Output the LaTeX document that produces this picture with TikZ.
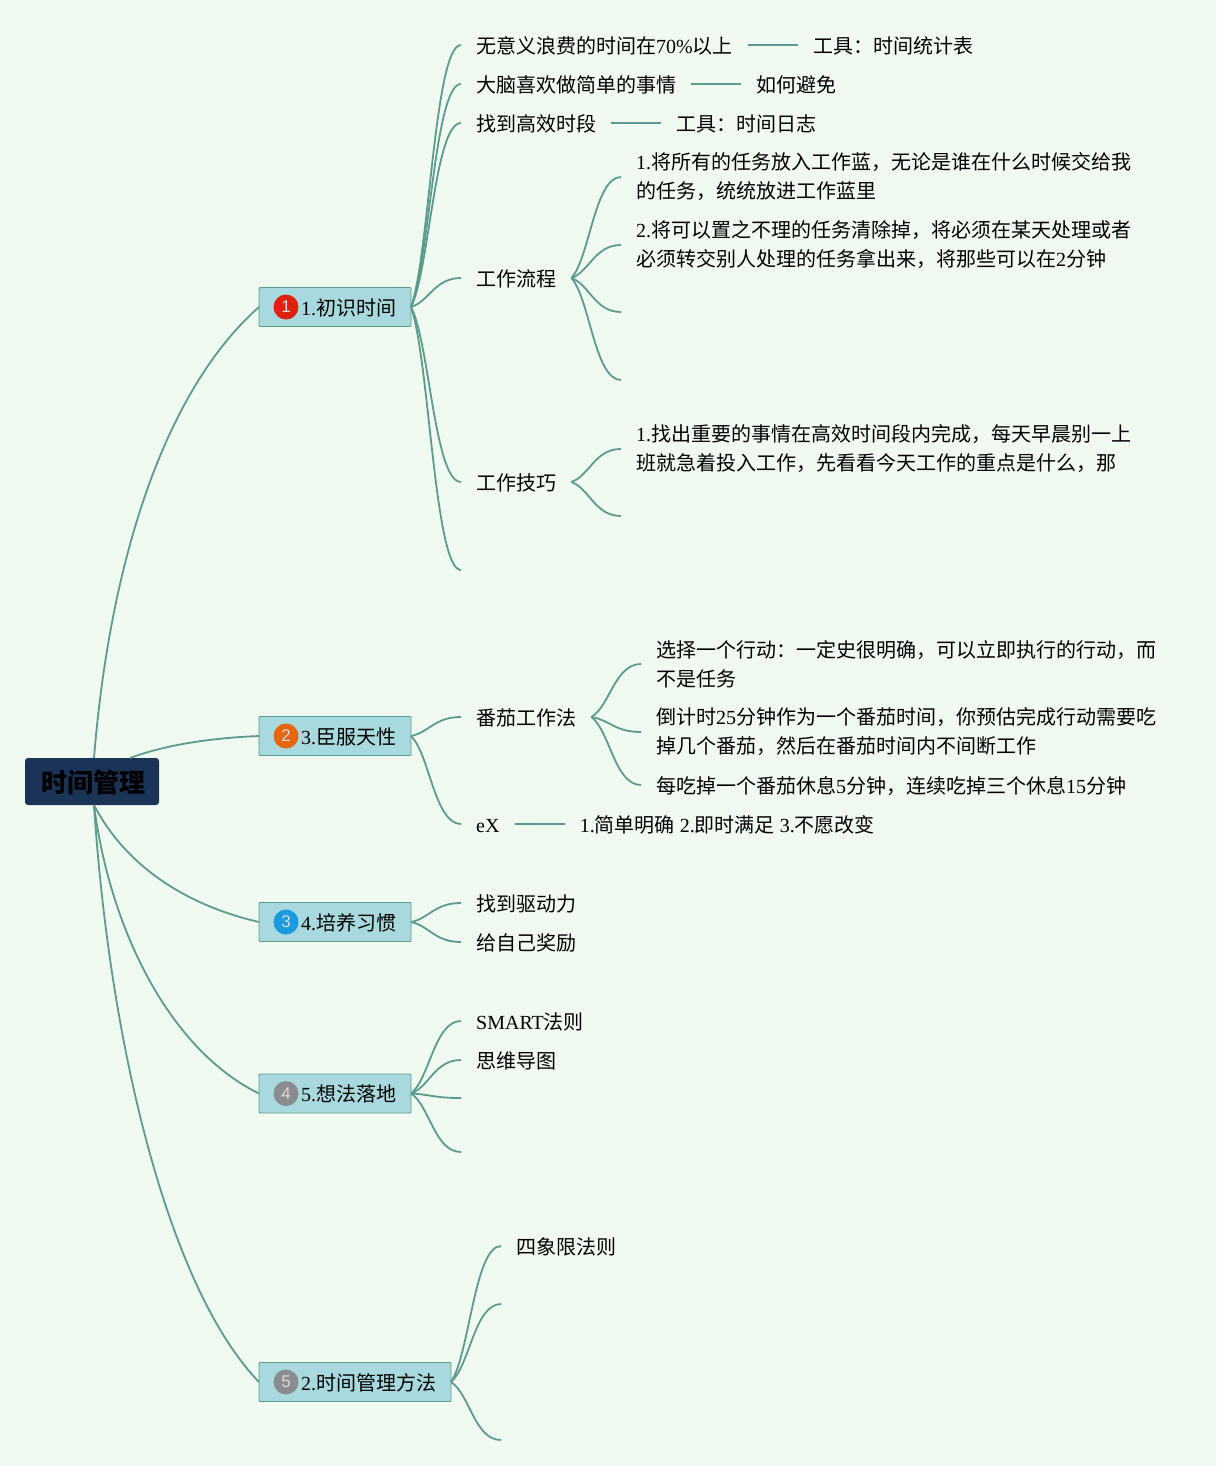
\documentclass[tikz,border=0pt]{standalone}
\usepackage{fontspec}
\setmainfont{Noto Sans CJK SC}
\newfontfamily\latfont{Liberation Serif}
\newfontfamily\numfont{Liberation Sans}
\usetikzlibrary{calc,positioning}
\definecolor{paper}{HTML}{F1FAF0}
\definecolor{branchc}{HTML}{5B9C8C}
\definecolor{topicc}{HTML}{A8D9DE}
\definecolor{rootc}{HTML}{1C3358}
\definecolor{badgea}{HTML}{E0200F}
\definecolor{badgeb}{HTML}{E8660F}
\definecolor{badgec}{HTML}{1A9BE0}
\definecolor{badged}{HTML}{8C8C90}
\newcommand{\lat}[1]{{\latfont #1}}
\newcommand{\twig}[2]{\draw[branch] let \p1=(#1),\p2=(#2),\n1={\x2-\x1},\n2={\y2-\y1} in
  (\p1) .. controls ({\x1+.37*\n1},{\y1+.2*\n2}) and ({\x2-.53*\n1},\y2) .. (\p2);}
\tikzset{
  branch/.style={draw=branchc,line width=1.8pt},
  para/.style={anchor=west,align=left,inner xsep=15pt,inner ysep=0pt,font=\fontsize{20}{29}\selectfont},
  leaf/.style={para,text height=18.5pt,text depth=2pt},
  topic/.style={draw=branchc,fill=topicc,line width=.8pt,rounded corners=1pt,anchor=west,minimum height=39pt,outer sep=0pt,
    inner xsep=15pt,inner ysep=0pt,text height=18.5pt,text depth=2pt,font=\fontsize{20}{24}\selectfont},
  badge/.style={circle,minimum size=25pt,inner sep=0pt,text=white!85!black,font=\numfont\fontsize{17}{20}\selectfont},
}
\begin{document}
\begin{tikzpicture}[x=1pt,y=-1pt]
  \fill[paper] (0,0) rectangle (1216,1466);
  % centre and main topics
  \node[fill=rootc,rounded corners=3pt,minimum width=134pt,minimum height=47pt,inner sep=0pt,text height=24.9pt,text depth=3.1pt,
    font=\bfseries\fontsize{26}{30}\selectfont] (root) at (92,781.5) {\hspace*{2pt}时间管理};
  \coordinate (rootn) at (94,758);
  \coordinate (rootr) at (130,758);
  \coordinate (roots) at (94,805);
  \node[topic] (t1) at (259,307) {\hspace*{27pt}\lat{1.}初识时间};
  \node[topic] (t2) at (259,736) {\hspace*{27pt}\lat{3.}臣服天性};
  \node[topic] (t3) at (259,922) {\hspace*{27pt}\lat{4.}培养习惯};
  \node[topic] (t4) at (259,1093.5) {\hspace*{27pt}\lat{5.}想法落地};
  \node[topic] (t5) at (259,1382) {\hspace*{27pt}\lat{2.}时间管理方法};
  \node[badge,fill=badgea] (b1) at (286,307) {1};
  \node[badge,fill=badgeb] (b2) at (286,736) {2};
  \node[badge,fill=badgec] (b3) at (286,922) {3};
  \node[badge,fill=badged] (b4) at (286,1093.5) {4};
  \node[badge,fill=badged] (b5) at (286,1382) {5};

  % 1
  \node[leaf] (a1) at (461,45) {无意义浪费的时间在\lat{70\%}以上};
  \node[leaf,right=50pt of a1] (a1x) {工具：时间统计表};
  \node[leaf] (a2) at (461,84) {大脑喜欢做简单的事情};
  \node[leaf,right=50pt of a2] (a2x) {如何避免};
  \node[leaf] (a3) at (461,123) {找到高效时段};
  \node[leaf,right=50pt of a3] (a3x) {工具：时间日志};
  \node[leaf] (a4) at (461,278) {工作流程};
  \node[leaf] (a5) at (461,482) {工作技巧};
  \coordinate (a6) at (461,570);
  \node[para] (f1) at (621,177) {\lat{1.}将所有的任务放入工作蓝，无论是谁在什么时候交给我\\的任务，统统放进工作蓝里};
  \node[para] (f2) at (621,245) {\lat{2.}将可以置之不理的任务清除掉，将必须在某天处理或者\\必须转交别人处理的任务拿出来，将那些可以在\lat{2}分钟};
  \coordinate (f3) at (621,312);
  \coordinate (f4) at (621,380);
  \node[para] (k1) at (621,449) {\lat{1.}找出重要的事情在高效时间段内完成，每天早晨别一上\\班就急着投入工作，先看看今天工作的重点是什么，那};
  \coordinate (k2) at (621,516);

  % 3
  \node[leaf] (c1) at (461,717) {番茄工作法};
  \node[leaf] (c2) at (461,824) {\lat{eX}};
  \node[leaf,right=50pt of c2] (c2x) {\lat{1.}简单明确\lat{ 2.}即时满足\lat{ 3.}不愿改变};
  \node[para] (p1) at (641,664) {选择一个行动：一定史很明确，可以立即执行的行动，而\\不是任务};
  \node[para] (p2) at (641,732) {倒计时\lat{25}分钟作为一个番茄时间，你预估完成行动需要吃\\掉几个番茄，然后在番茄时间内不间断工作};
  \node[leaf] (p3) at (641,785) {每吃掉一个番茄休息\lat{5}分钟，连续吃掉三个休息\lat{15}分钟};

  % 4, 5, 2
  \node[leaf] (d1) at (461,903) {找到驱动力};
  \node[leaf] (d2) at (461,942) {给自己奖励};
  \node[leaf] (e1) at (461,1021) {\lat{SMART}法则};
  \node[leaf] (e2) at (461,1060) {思维导图};
  \coordinate (e3) at (461,1098);
  \coordinate (e4) at (461,1152);
  \node[leaf] (g1) at (501,1246) {四象限法则};
  \coordinate (g2) at (501,1304);
  \coordinate (g3) at (501,1440);

  % connectors
  \draw[branch] (rootn) .. controls (110,560) and (165,390) .. (t1.west);
  \draw[branch] (rootr) .. controls (165,745) and (210,738) .. (t2.west);
  \draw[branch] (roots) .. controls (125,865) and (185,905) .. (t3.west);
  \draw[branch] (roots) .. controls (110,930) and (170,1050) .. (t4.west);
  \draw[branch] (roots) .. controls (110,1050) and (170,1290) .. (t5.west);
  \foreach \kid in {a1.west,a2.west,a3.west,a4.west,a5.west,a6} {\twig{t1.east}{\kid}}
  \foreach \kid in {f1.west,f2.west,f3,f4} {\twig{a4.east}{\kid}}
  \foreach \kid in {k1.west,k2} {\twig{a5.east}{\kid}}
  \foreach \kid in {c1.west,c2.west} {\twig{t2.east}{\kid}}
  \foreach \kid in {p1.west,p2.west,p3.west} {\twig{c1.east}{\kid}}
  \foreach \kid in {d1.west,d2.west} {\twig{t3.east}{\kid}}
  \foreach \kid in {e1.west,e2.west,e3,e4} {\twig{t4.east}{\kid}}
  \foreach \kid in {g1.west,g2,g3} {\twig{t5.east}{\kid}}
  \foreach \kid/\out in {a1/a1x,a2/a2x,a3/a3x,c2/c2x} {\draw[branch] (\kid.east) -- (\out.west);}
\end{tikzpicture}
\end{document}
